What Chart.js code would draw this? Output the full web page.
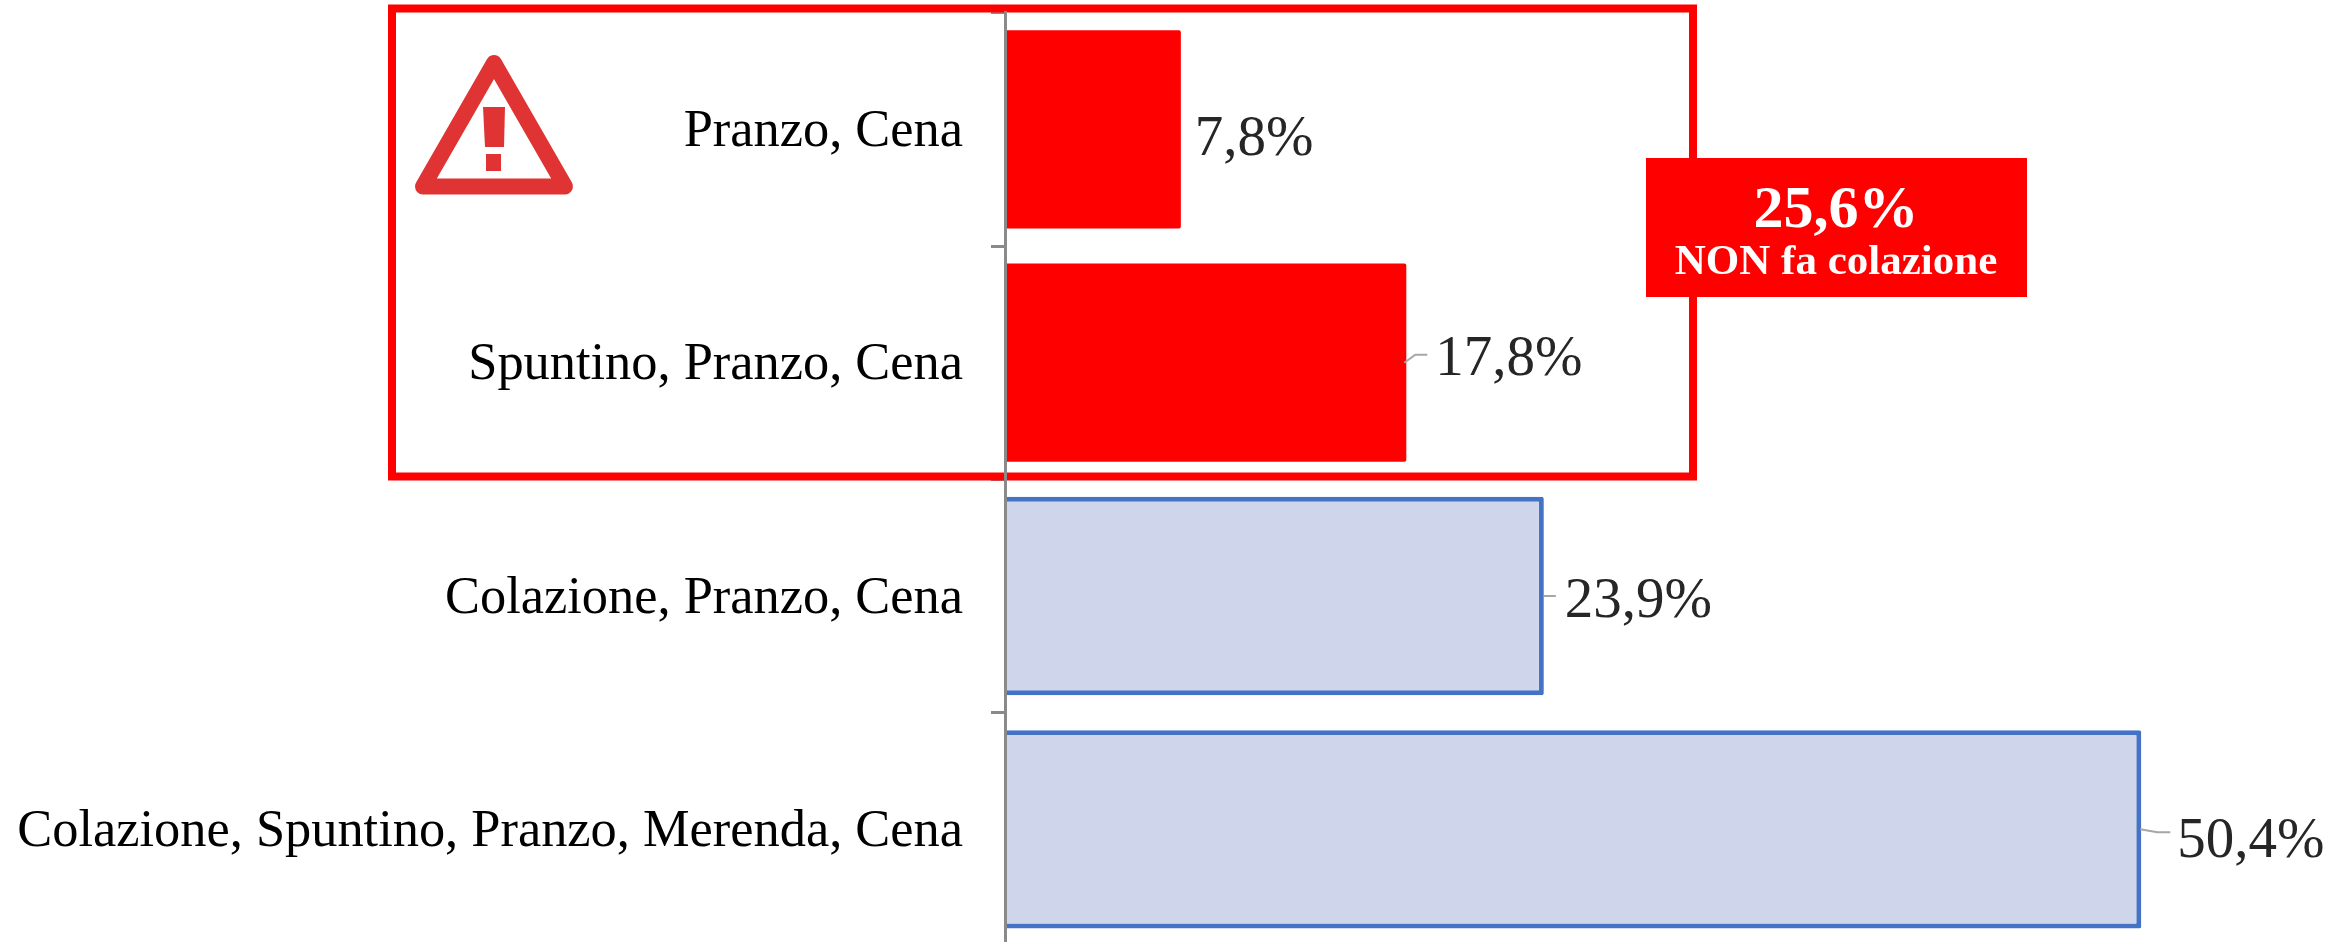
<!DOCTYPE html>
<html lang="it">
<head>
<meta charset="utf-8">
<title>Pasti</title>
<style>
	html, body { margin: 0; padding: 0; background: #fff; width: 2351px; height: 942px; overflow: hidden; }
	canvas { display: block; }
</style>
<script src="https://cdn.jsdelivr.net/npm/chart.js@4/dist/chart.umd.min.js"></script>
</head>
<body>
<canvas id="chart" width="2351" height="960"></canvas>
<script>
const categories = [
	'Pranzo, Cena',
	'Spuntino, Pranzo, Cena',
	'Colazione, Pranzo, Cena',
	'Colazione, Spuntino, Pranzo, Merenda, Cena'
];
const percentages = [7.8, 17.8, 23.9, 50.4];
const calloutValue = [25.6];
const calloutText = ['NON fa colazione'];

const RED = '#ff0000';
const BLUE = '#4472c4';
const PALE_BLUE = '#cfd5ea';
const SERIF = '"Liberation Serif", serif';
const fmt = v => v.toFixed(1).replace('.', ',') + '%';

// label offset from the bar end, then the small leader line (relative too)
const labelSpots = [
	{ dx: 14, dy: 11, leader: null },
	{ dx: 29, dy: -3, leader: [[-2, 0], [9, -8], [21, -8]] },
	{ dx: 21, dy: 6, leader: [[0, 0], [12, 0]] },
	{ dx: 36, dy: 13, leader: [[-1, 0], [16, 3], [29, 3]] }
];

const valueLabels = {
	id: 'valueLabels',
	afterDatasetsDraw(chart) {
		const ctx = chart.ctx;
		const bars = chart.getDatasetMeta(0).data;
		ctx.save();
		bars.forEach((bar, i) => {
			const spot = labelSpots[i];
			if (spot.leader) {
				ctx.strokeStyle = '#a6a6a6';
				ctx.lineWidth = 2;
				ctx.beginPath();
				spot.leader.forEach((p, n) => {
					if (n === 0) ctx.moveTo(bar.x + p[0], bar.y + p[1]);
					else ctx.lineTo(bar.x + p[0], bar.y + p[1]);
				});
				ctx.stroke();
			}
			ctx.fillStyle = '#262626';
			ctx.font = '57px ' + SERIF;
			ctx.textAlign = 'left';
			ctx.textBaseline = 'middle';
			ctx.fillText(fmt(percentages[i]), bar.x + spot.dx, bar.y + spot.dy);
		});
		ctx.restore();
	}
};

// red frame goes under the axis line, the callout and the icon on top
const redFrame = {
	id: 'redFrame',
	beforeDatasetsDraw(chart) {
		const ctx = chart.ctx;
		ctx.save();
		ctx.strokeStyle = RED;
		ctx.lineWidth = 8;
		ctx.strokeRect(392, 8.5, 1301, 468);
		ctx.restore();
	},
	afterDraw(chart) {
		const ctx = chart.ctx;
		ctx.save();
		ctx.fillStyle = RED;
		ctx.fillRect(1646, 158, 381, 139);
		ctx.fillStyle = '#fff';
		ctx.textAlign = 'center';
		ctx.textBaseline = 'alphabetic';
		ctx.font = 'bold 60px ' + SERIF;
		ctx.fillText(fmt(calloutValue[0]), 1836, 227);
		ctx.font = 'bold 43px ' + SERIF;
		ctx.fillText(calloutText[0], 1836, 274);

		// warning triangle
		ctx.strokeStyle = '#e03434';
		ctx.fillStyle = '#e03434';
		ctx.lineWidth = 16;
		ctx.lineJoin = 'round';
		ctx.beginPath();
		ctx.moveTo(494, 63);
		ctx.lineTo(565, 186.5);
		ctx.lineTo(423, 186.5);
		ctx.closePath();
		ctx.stroke();
		ctx.beginPath();
		ctx.moveTo(483, 107);
		ctx.lineTo(505, 107);
		ctx.lineTo(504, 147);
		ctx.lineTo(485, 147);
		ctx.closePath();
		ctx.fill();
		ctx.fillRect(486, 154, 15, 17);
		ctx.restore();
	}
};

new Chart(document.getElementById('chart'), {
	type: 'bar',
	data: {
		labels: categories,
		datasets: [{
			data: percentages,
			backgroundColor: [RED, RED, PALE_BLUE, PALE_BLUE],
			borderColor: [RED, RED, BLUE, BLUE],
			borderWidth: [0, 0, 5, 5],
			borderSkipped: 'start',
			borderRadius: 2,
			categoryPercentage: 0.85,
			barPercentage: 1
		}]
	},
	options: {
		indexAxis: 'y',
		responsive: false,
		animation: false,
		layout: { autoPadding: false, padding: { top: 12.7, bottom: 14, right: 106 } },
		plugins: { legend: { display: false }, tooltip: { enabled: false } },
		scales: {
			x: { display: false, min: 0, max: 55 },
			y: {
				// the long labels would otherwise push the plot area around
				afterFit(scale) {
					scale.width = 1005;
					scale.paddingTop = 0;
					scale.paddingBottom = 0;
					scale._margins.top = 0;
					scale._margins.bottom = 0;
				},
				border: { display: true, color: '#8a8a8a', width: 3, z: 1 },
				grid: { drawOnChartArea: false, offset: true, color: '#8a8a8a', lineWidth: 3, tickLength: 14 },
				ticks: {
					color: '#000',
					padding: 28,
					labelOffset: 3,
					autoSkip: false,
					font: { family: SERIF, size: 52.4 }
				}
			}
		}
	},
	plugins: [redFrame, valueLabels]
});
</script>
</body>
</html>
